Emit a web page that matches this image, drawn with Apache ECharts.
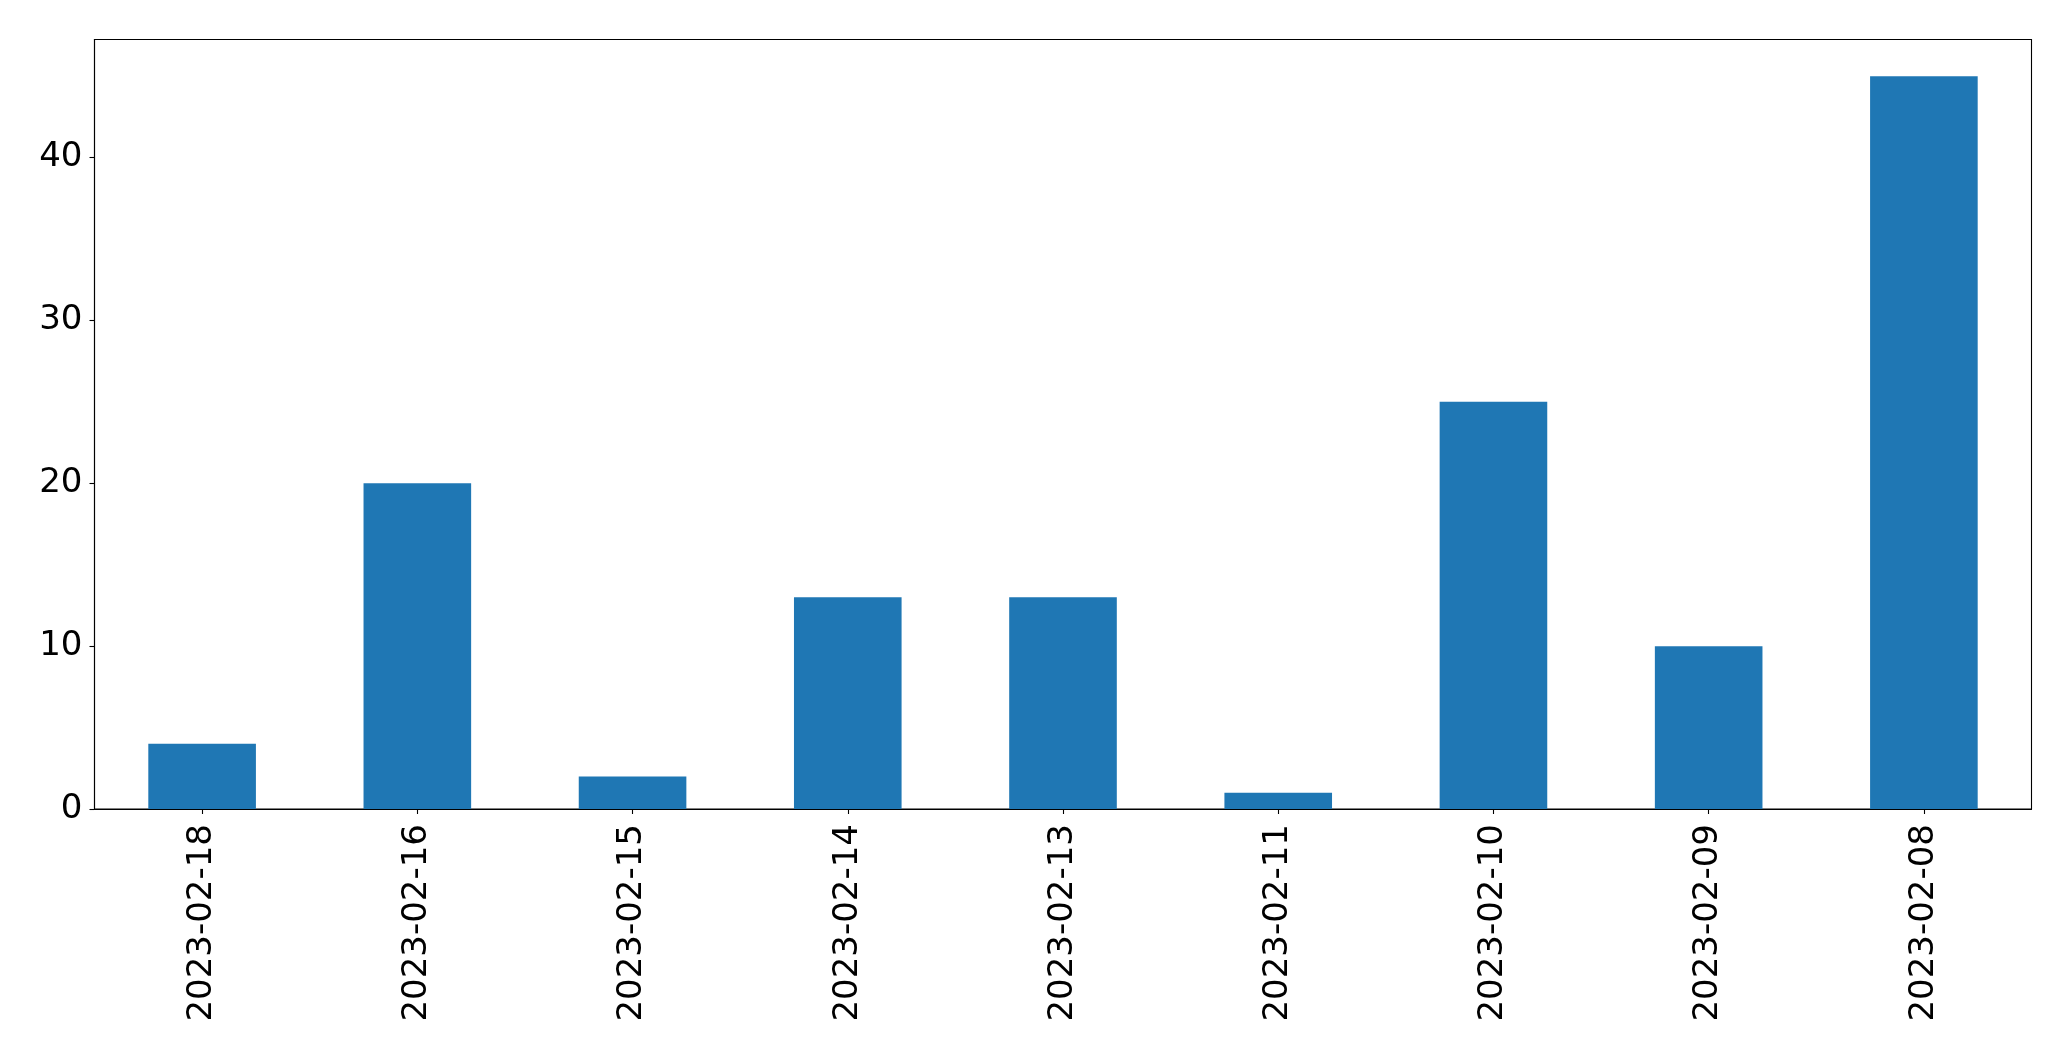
<!DOCTYPE html>
<html>
<head>
<meta charset="utf-8">
<script src="https://cdn.jsdelivr.net/npm/echarts@6/dist/echarts.min.js"></script>
<style>html,body{margin:0;padding:0;background:#fff;}#c{width:2071px;height:1061px;}</style>
</head>
<body>
<div id="c"></div>
<script>
const categories = ['2023-02-18','2023-02-16','2023-02-15','2023-02-14','2023-02-13','2023-02-11','2023-02-10','2023-02-09','2023-02-08'];
const values = [4, 20, 2, 13, 13, 1, 25, 10, 45];
const yTicks = [0, 10, 20, 30, 40];

const chart = echarts.init(document.getElementById('c'), null, {renderer: 'canvas'});
const font = 'DejaVu Sans';
chart.setOption({
  animation: false,
  backgroundColor: '#ffffff',
  grid: {left: 94.5, right: 39.5, top: 39.5, bottom: 252, show: true, borderColor: '#000', borderWidth: 1.1, backgroundColor: 'transparent'},
  xAxis: {
    type: 'category',
    data: categories,
    boundaryGap: true,
    axisLine: {show: true, lineStyle: {color: '#000', width: 1.1}},
    axisTick: {show: true, alignWithLabel: true, length: 5, lineStyle: {color: '#000', width: 1.1}},
    axisLabel: {rotate: 90, fontSize: 34, fontFamily: font, color: '#000', margin: 15, interval: 0},
    splitLine: {show: false}
  },
  yAxis: {
    type: 'value',
    min: 0,
    max: 47.25,
    axisLine: {show: true, lineStyle: {color: '#000', width: 1.1}},
    axisTick: {show: true, length: 5, customValues: yTicks, lineStyle: {color: '#000', width: 1.1}},
    axisLabel: {fontSize: 34, fontFamily: font, color: '#000', margin: 12, customValues: yTicks},
    splitLine: {show: false}
  },
  series: [{
    type: 'bar',
    data: values,
    barWidth: '50%',
    itemStyle: {color: '#1f77b4'}
  }]
});
</script>
</body>
</html>
